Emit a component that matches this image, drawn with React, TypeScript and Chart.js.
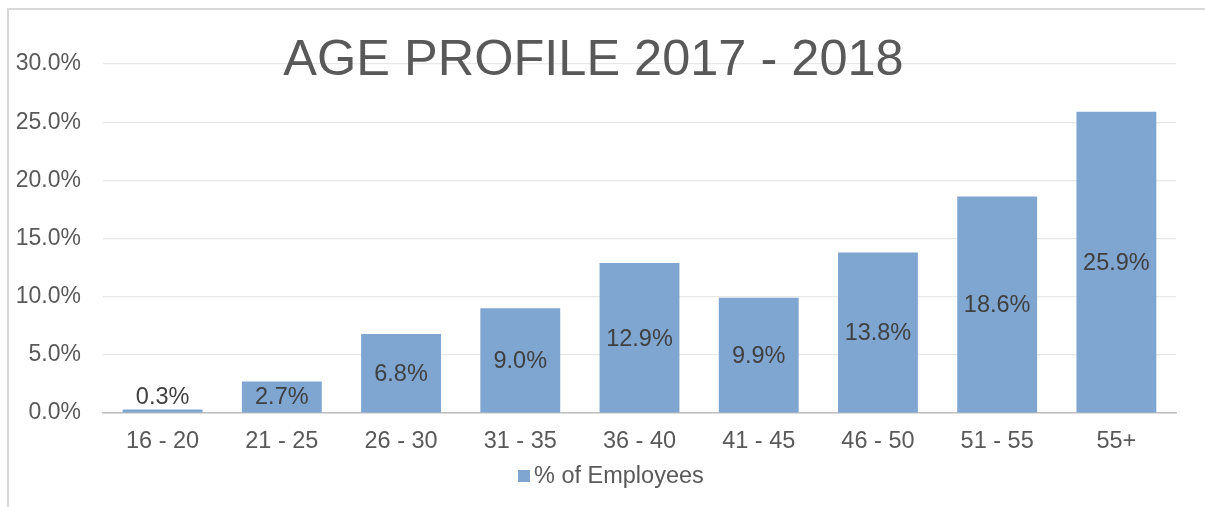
import React, { useEffect, useRef } from "react";
import { Chart, registerables } from "chart.js";

Chart.register(...registerables);

const categories = ["16 - 20", "21 - 25", "26 - 30", "31 - 35", "36 - 40", "41 - 45", "46 - 50", "51 - 55", "55+"];
const employeesPct = [0.3, 2.7, 6.8, 9.0, 12.9, 9.9, 13.8, 18.6, 25.9];
const yTicks = [0, 5, 10, 15, 20, 25, 30];
const seriesName = "% of Employees";
const titleText = "AGE PROFILE 2017 - 2018";

const FONT = '"Liberation Sans", Arial, sans-serif';
const BAR_COLOR = "#7fa6d1";

const overlayPlugin = {
  id: "overlay",
  afterDatasetsDraw(chart: any) {
    const ctx = chart.ctx;
    const meta = chart.getDatasetMeta(0);
    ctx.save();
    ctx.font = `23.5px ${FONT}`;
    ctx.fillStyle = "#404040";
    ctx.textAlign = "center";
    ctx.textBaseline = "middle";
    meta.data.forEach((bar: any, i: number) => {
      const mid = (bar.y + bar.base) / 2;
      const y = Math.min(mid, bar.base - 16) + 1.5;
      ctx.fillText(employeesPct[i].toFixed(1) + "%", bar.x, y);
    });
    ctx.restore();
  },
  afterDraw(chart: any) {
    const ctx = chart.ctx;
    ctx.save();
    // title
    ctx.font = `50.5px ${FONT}`;
    ctx.fillStyle = "#595959";
    ctx.textAlign = "center";
    ctx.textBaseline = "alphabetic";
    ctx.fillText(titleText, 593.5, 74.5);
    // legend
    ctx.fillStyle = BAR_COLOR;
    ctx.fillRect(518, 470, 12, 12);
    ctx.font = `23.5px ${FONT}`;
    ctx.fillStyle = "#595959";
    ctx.textAlign = "left";
    ctx.textBaseline = "middle";
    ctx.fillText(seriesName, 534, 477);
    ctx.restore();
  },
};

export default function App() {
  const ref = useRef<HTMLCanvasElement>(null);
  useEffect(() => {
    const chart = new Chart(ref.current!, {
      type: "bar",
      data: {
        labels: categories,
        datasets: [
          {
            label: seriesName,
            data: employeesPct,
            backgroundColor: BAR_COLOR,
            borderWidth: 0,
            categoryPercentage: 0.67,
            barPercentage: 1,
          },
        ],
      },
      options: {
        animation: false,
        responsive: false,
        maintainAspectRatio: false,
        layout: { padding: { left: 0, right: 29, top: 64, bottom: 0 } },
        plugins: {
          legend: { display: false },
          title: { display: false },
          tooltip: { enabled: false },
        },
        scales: {
          x: {
            grid: { display: false, drawTicks: false },
            border: { display: true, color: "#bfbfbf", width: 1.5 },
            ticks: { color: "#595959", font: { family: FONT, size: 23.5 }, padding: 14 },
            afterFit(scale: any) {
              scale.height = 94;
            },
          },
          y: {
            min: 0,
            max: 30,
            afterBuildTicks(scale: any) {
              scale.ticks = yTicks.map((v) => ({ value: v }));
            },
            grid: { color: "#e8e8e8", lineWidth: 1.2, drawTicks: false },
            border: { display: false },
            ticks: {
              color: "#595959",
              font: { family: FONT, size: 23 },
              padding: 22,
              callback: (v: any) => Number(v).toFixed(1) + "%",
            },
            afterFit(scale: any) {
              scale.width = 103;
            },
          },
        },
      },
      plugins: [overlayPlugin],
    });
    return () => chart.destroy();
  }, []);

  return (
    <div style={{ position: "fixed", left: 0, top: 0, width: 1205, height: 507, overflow: "hidden", background: "#fff" }}>
      <div
        style={{
          position: "absolute",
          left: 7,
          top: 8,
          width: 1400,
          height: 700,
          border: "2px solid #d9d9d9",
          boxSizing: "border-box",
        }}
      />
      <canvas ref={ref} width={1205} height={507} style={{ position: "absolute", left: 0, top: 0, display: "block" }} />
    </div>
  );
}
